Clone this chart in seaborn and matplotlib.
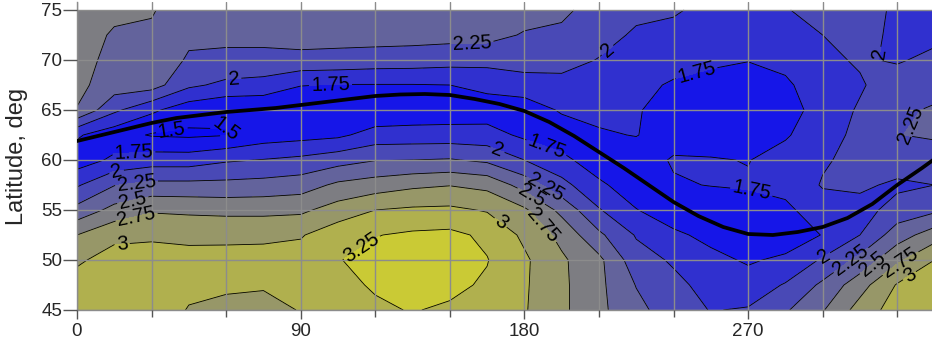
import numpy as np
import matplotlib
matplotlib.use("Agg")
import matplotlib.pyplot as plt
import seaborn as sns
from matplotlib.ticker import MultipleLocator, FixedLocator

# ---------------- data ----------------
lon = [0, 15, 30, 45, 60, 75, 90, 105, 120, 135, 150, 165, 180, 195,
       210, 225, 240, 255, 270, 285, 300, 315, 330, 345]
lat = [45, 47.5, 50, 52.5, 55, 57.5, 60, 62.5, 65, 67.5, 70, 72.5, 75]

z_450 = [3.15, 3.12, 3.10, 2.99, 2.95, 2.93, 3.01, 3.15, 3.22, 3.26, 3.22, 3.15, 3.02, 2.80, 2.56, 2.32, 2.12, 1.99, 2.02, 2.22, 2.48, 2.85, 3.12, 3.20]
z_475 = [3.08, 3.10, 3.10, 3.04, 3.03, 3.02, 3.07, 3.20, 3.27, 3.33, 3.30, 3.22, 3.03, 2.80, 2.56, 2.24, 2.06, 1.92, 1.86, 2.02, 2.30, 2.65, 3.02, 3.12]
z_500 = [2.97, 3.08, 3.08, 3.07, 3.06, 3.07, 3.10, 3.24, 3.32, 3.36, 3.35, 3.26, 3.04, 2.79, 2.56, 2.10, 1.97, 1.82, 1.72, 1.80, 2.03, 2.32, 2.70, 3.00]
z_525 = [2.75, 2.95, 2.97, 2.95, 2.96, 2.96, 2.98, 3.15, 3.24, 3.29, 3.31, 3.20, 2.95, 2.68, 2.30, 1.98, 1.80, 1.68, 1.57, 1.60, 1.76, 2.00, 2.38, 2.63]
z_550 = [2.33, 2.58, 2.72, 2.70, 2.68, 2.68, 2.70, 2.86, 3.00, 3.04, 3.05, 2.98, 2.79, 2.43, 2.02, 1.76, 1.60, 1.55, 1.62, 1.70, 1.88, 1.90, 2.10, 2.20]
z_575 = [1.97, 2.24, 2.32, 2.32, 2.32, 2.34, 2.38, 2.55, 2.62, 2.70, 2.74, 2.68, 2.40, 2.08, 1.80, 1.60, 1.72, 1.76, 1.78, 1.82, 2.02, 2.05, 1.95, 2.00]
z_600 = [1.62, 1.80, 1.88, 1.88, 1.97, 2.01, 2.06, 2.15, 2.24, 2.25, 2.27, 2.20, 2.00, 1.82, 1.60, 1.60, 1.78, 1.77, 1.74, 1.86, 1.97, 2.08, 2.15, 2.05]
z_625 = [1.78, 1.60, 1.48, 1.46, 1.49, 1.62, 1.66, 1.70, 1.85, 1.86, 1.86, 1.85, 1.70, 1.60, 1.72, 1.76, 1.62, 1.60, 1.60, 1.72, 1.92, 2.05, 2.24, 2.30]
z_650 = [2.49, 2.05, 1.80, 1.60, 1.53, 1.54, 1.52, 1.52, 1.55, 1.58, 1.60, 1.62, 1.60, 1.78, 1.82, 1.77, 1.65, 1.58, 1.56, 1.60, 1.90, 2.02, 2.20, 2.28]
z_675 = [2.56, 2.38, 2.36, 2.05, 1.94, 1.90, 1.76, 1.74, 1.74, 1.74, 1.75, 1.82, 1.90, 1.93, 1.90, 1.82, 1.72, 1.66, 1.62, 1.70, 1.92, 1.98, 2.10, 2.15]
z_700 = [2.60, 2.42, 2.42, 2.22, 2.20, 2.20, 2.18, 2.17, 2.14, 2.13, 2.10, 2.08, 2.10, 2.08, 1.99, 1.88, 1.85, 1.80, 1.76, 1.83, 1.96, 2.02, 1.98, 2.05]
z_725 = [2.62, 2.47, 2.46, 2.30, 2.30, 2.30, 2.35, 2.34, 2.35, 2.34, 2.33, 2.33, 2.23, 2.20, 2.08, 1.97, 1.95, 1.88, 1.85, 1.92, 2.00, 2.08, 1.95, 1.95]
z_750 = [2.62, 2.56, 2.52, 2.36, 2.36, 2.37, 2.37, 2.38, 2.40, 2.41, 2.42, 2.42, 2.35, 2.30, 2.15, 2.05, 2.02, 1.95, 1.90, 1.99, 2.06, 2.10, 1.96, 1.92]

fill_levels = [1.25, 1.5, 1.75, 2.0, 2.25, 2.5, 2.75, 3.0, 3.25, 3.5]
line_levels = [1.5, 1.75, 2.0, 2.25, 2.5, 2.75, 3.0, 3.25]

curve_lon = [0, 10, 20, 30, 40, 50, 60, 70, 80, 90, 100, 110, 120, 130, 140,
             150, 160, 170, 180, 190, 200, 210, 220, 230, 240, 250, 260, 270,
             280, 290, 300, 310, 320, 330, 340, 350]
curve_lat = [61.9, 62.5, 63.1, 63.7, 64.2, 64.5, 64.8, 65.0, 65.2, 65.5, 65.8,
             66.1, 66.4, 66.55, 66.6, 66.5, 66.1, 65.6, 64.9, 63.8, 62.4, 60.8,
             59.2, 57.5, 55.8, 54.4, 53.3, 52.6, 52.5, 52.8, 53.3, 54.2, 55.6,
             57.5, 59.2, 61.0]

x_major = [0, 90, 180, 270]
y_ticks = [45, 50, 55, 60, 65, 70, 75]
y_label = "Latitude, deg"

# ---------------- style ----------------
band_colors = ["#0a0af2", "#1616e8", "#3030cf", "#4949b6", "#63639c",
               "#7d7d82", "#979768", "#b0b04e", "#caca35"]
label_spots = [(159, 71.6), (213, 71.1), (323, 70.6), (63, 68.4), (102, 67.4),
               (250, 68.1), (38, 63.2), (64, 64.6), (338, 63.1), (23, 60.1),
               (169, 60.9), (189, 61.3), (271, 56.6), (16, 58.6), (24, 57.6),
               (22.5, 55.9), (24, 54.3), (18, 52.1), (187, 56.8), (182, 56.1),
               (186, 53.1), (170, 53.6), (115, 51.1), (301.5, 49.9),
               (310.8, 50.2), (320, 49.6), (332, 49.4), (335, 48.4)]

sns.set_theme(style="white")
plt.rcParams["font.family"] = ["Liberation Sans", "DejaVu Sans"]

fig = plt.figure(figsize=(9.32, 3.47), dpi=100)
ax = fig.add_axes([77 / 932, 37 / 347, 855 / 932, 308 / 347])
ax.set_facecolor("white")

Z = np.array([z_450, z_475, z_500, z_525, z_550, z_575, z_600, z_625,
              z_650, z_675, z_700, z_725, z_750])
X, Y = np.meshgrid(lon, lat)

ax.contourf(X, Y, Z, levels=fill_levels, colors=band_colors, zorder=1)
cs = ax.contour(X, Y, Z, levels=line_levels, colors="black",
                linewidths=0.6, zorder=2)
ax.clabel(cs, fmt="%g", fontsize=14.5, manual=label_spots, inline=True,
          inline_spacing=2)

sns.lineplot(x=curve_lon, y=curve_lat, color="black", linewidth=2.7,
             sort=False, estimator=None, ax=ax, zorder=5)

ax.set_xlim(0, 344)
ax.set_ylim(45, 75.8)
ax.xaxis.set_major_locator(FixedLocator(x_major))
ax.xaxis.set_minor_locator(MultipleLocator(30))
ax.yaxis.set_major_locator(FixedLocator(y_ticks))

ax.set_axisbelow(False)
ax.xaxis.grid(True, which="both", color="#8c8c8c", linewidth=1.0)
ax.yaxis.grid(True, which="major", color="#8c8c8c", linewidth=1.0)

for s in ["top", "right"]:
    ax.spines[s].set_visible(False)
for s in ["left", "bottom"]:
    ax.spines[s].set_color("#8c8c8c")
    ax.spines[s].set_linewidth(1.0)

ax.tick_params(axis="x", which="major", direction="out", length=6.5, width=1,
               color="#555555", labelsize=13.5, pad=2.5, bottom=True)
ax.tick_params(axis="x", which="minor", direction="out", length=5, width=1,
               color="#555555", bottom=True)
ax.tick_params(axis="y", which="major", direction="out", length=10, width=1,
               color="#555555", labelsize=13.5, pad=0.5, left=True)

ax.set_xlabel("")
ax.set_ylabel(y_label, fontsize=17)
ax.yaxis.set_label_coords(-0.057, 0.5)

fig.savefig("out.png", dpi=100)
